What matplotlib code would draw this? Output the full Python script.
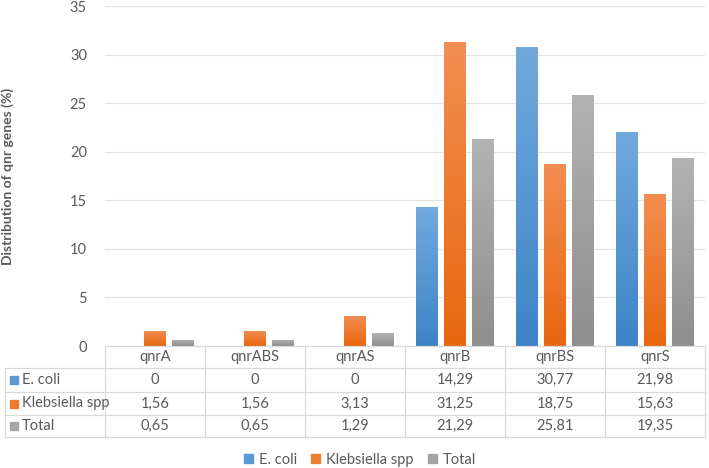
import matplotlib
matplotlib.use("Agg")
import matplotlib.pyplot as plt
import numpy as np
from matplotlib.colors import LinearSegmentedColormap
from matplotlib.lines import Line2D
from matplotlib.patches import Rectangle

categories = ["qnrA", "qnrABS", "qnrAS", "qnrB", "qnrBS", "qnrS"]
series_names = ["E. coli", "Klebsiella spp", "Total"]
ecoli = [0, 0, 0, 14.29, 30.77, 21.98]
klebsiella = [1.56, 1.56, 3.13, 31.25, 18.75, 15.63]
total = [0.65, 0.65, 1.29, 21.29, 25.81, 19.35]
series_values = [ecoli, klebsiella, total]
yticks = [0, 5, 10, 15, 20, 25, 30, 35]

top_colors = ["#72a9de", "#f28e52", "#b3b3b3"]
bot_colors = ["#3d84c6", "#e8670f", "#8e8e8e"]
solid_colors = ["#5b9bd5", "#ed7d31", "#a5a5a5"]

plt.rcParams['font.family'] = ['Lato', 'DejaVu Sans']
FS = 10.5
W, H = 709, 468
fig = plt.figure(figsize=(W / 100, H / 100), dpi=100)
ax_l, ax_r, ax_t, ax_b = 105, 705, 6, 346
ax = fig.add_axes([ax_l / W, 1 - ax_b / H, (ax_r - ax_l) / W, (ax_b - ax_t) / H])
ax.set_xlim(-0.5, len(categories) - 0.5)
ax.set_ylim(0, 35)
ax.set_yticks(yticks)
ax.set_yticklabels([str(t) for t in yticks], color="#595959", fontsize=FS)
ax.tick_params(axis="y", length=0, pad=13)
ax.set_xticks([])
for s in ["top", "right", "left", "bottom"]:
    ax.spines[s].set_visible(False)
ax.grid(axis="y", color="#e3e3e3", linewidth=0.9)
ax.set_axisbelow(True)
ax.set_ylabel("Distribution of qnr genes (%)", fontsize=10, fontweight="bold",
              color="#595959")
ax.yaxis.set_label_coords((14 - ax_l) / (ax_r - ax_l), 0.5)

bw = 0.22
offsets = [-0.28, 0.0, 0.28]
grad = np.linspace(0, 1, 256).reshape(-1, 1)
x = np.arange(len(categories))
for si, vals in enumerate(series_values):
    cmap = LinearSegmentedColormap.from_list("g%d" % si, [bot_colors[si], top_colors[si]])
    bars = ax.bar(x + offsets[si], vals, width=bw, color="none", edgecolor="none", zorder=3)
    for b in bars:
        h = b.get_height()
        if h <= 0:
            continue
        x0 = b.get_x()
        im = ax.imshow(grad, extent=[x0, x0 + bw, 0, h], origin="lower", cmap=cmap,
                       aspect="auto", zorder=3, interpolation="bilinear")
        im.set_clip_path(b)
ax.set_xlim(-0.5, len(categories) - 0.5)
ax.set_ylim(0, 35)

# Data table
lc = "#d9d9d9"
tc = "#595959"
tbl_left = 5
col_w = (ax_r - ax_l) / len(categories)
row_edges = [346, 368, 392, 415, 437]

def fx(px):
    return px / W

def fy(py):
    return 1 - py / H

def hline(x0, x1, y):
    fig.add_artist(Line2D([fx(x0), fx(x1)], [fy(y), fy(y)], color=lc, linewidth=0.9))

def vline(xp, y0, y1):
    fig.add_artist(Line2D([fx(xp), fx(xp)], [fy(y0), fy(y1)], color=lc, linewidth=0.9))

hline(ax_l, ax_r, row_edges[0])
hline(tbl_left, ax_r, row_edges[1])
hline(tbl_left, ax_r, row_edges[2])
hline(tbl_left, ax_r, row_edges[3])
hline(tbl_left, ax_r, row_edges[4])
vline(tbl_left, row_edges[1], row_edges[4])
for i in range(len(categories) + 1):
    vline(ax_l + i * col_w, row_edges[0], row_edges[4])

for i, c in enumerate(categories):
    fig.text(fx(ax_l + (i + 0.5) * col_w), fy((row_edges[0] + row_edges[1]) / 2), c,
             ha="center", va="center", fontsize=FS, color=tc)

def fmt(v):
    s = ("%.2f" % v).rstrip("0").rstrip(".") if v != 0 else "0"
    return s.replace(".", ",")

for r, (name, vals) in enumerate(zip(series_names, series_values)):
    yc = (row_edges[r + 1] + row_edges[r + 2]) / 2
    fig.add_artist(Rectangle((fx(10), fy(yc + 4)), 8 / W, 8 / H, color=solid_colors[r],
                             transform=fig.transFigure))
    fig.text(fx(22), fy(yc), name, ha="left", va="center", fontsize=FS, color=tc)
    for i, v in enumerate(vals):
        fig.text(fx(ax_l + (i + 0.5) * col_w), fy(yc), fmt(v),
                 ha="center", va="center", fontsize=FS, color=tc)

# Legend
handles = [Rectangle((0, 0), 1, 1, color=solid_colors[i]) for i in range(3)]
fig.legend(handles, series_names, loc="center", bbox_to_anchor=(fx(360), fy(460)),
           ncol=3, frameon=False, fontsize=FS, handlelength=0.6, handleheight=0.6,
           handletextpad=0.4, columnspacing=1.0, labelcolor=tc)

fig.savefig("out.png", dpi=100)
